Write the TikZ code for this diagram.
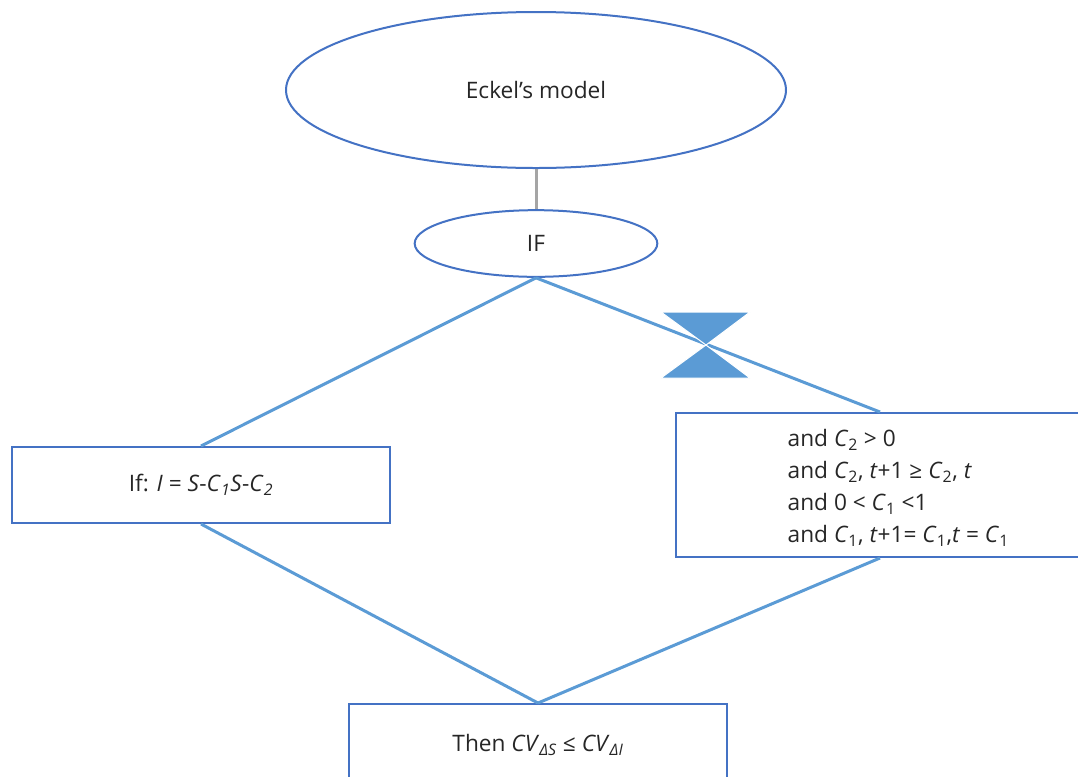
\documentclass[tikz,border=0pt]{standalone}
\usepackage{fontspec}
\setmainfont{Open Sans}
\usetikzlibrary{shapes.geometric}

\definecolor{boxblue}{HTML}{4472C4}
\definecolor{linkblue}{HTML}{5B9BD5}
\definecolor{linkgray}{HTML}{A5A5A5}
\definecolor{txtgray}{HTML}{262626}

\newcommand{\ital}[1]{\textit{#1}}
\newcommand{\subs}[1]{\textsubscript{#1}}

\tikzset{>=latex,
  oval/.style={ellipse, draw=boxblue, line width=1.5pt, fill=white, text=txtgray},
  frame/.style={rectangle, draw=boxblue, line width=1.5pt, fill=white, text=txtgray},
  link/.style={draw=linkblue, line width=2.25pt},
}

\begin{document}
\begin{tikzpicture}[x=0.75pt,y=-0.75pt,font=\fontsize{17}{24}\selectfont]
\useasboundingbox (0,0) rectangle (1078,776);
\clip (0,0) rectangle (1078,776);

% Eckel's model
\node[oval, minimum width=375pt, minimum height=117pt] (eckel) at (536,90) {Eckel’s model};
\node[oval, minimum width=182pt, minimum height=50pt] (if) at (536,243.5) {IF};
\draw[linkgray, line width=2.25pt] (eckel.south) -- (if.north);

% the two branches
\node[frame, minimum width=283.5pt, minimum height=57pt] (left) at (201,485) {};
\node[frame, minimum width=306pt, minimum height=108pt] (right) at (880,485) {};
\node[frame, minimum width=283.5pt, minimum height=57pt] (then) at (538,742) {};

\draw[link] (if.south) -- (left.north);
\draw[link] (if.south) -- (right.north);
\draw[link] (left.south) -- (then.north);
\draw[link] (right.south) -- (then.north);

% collate mark
\coordinate (mark) at (706,345);
\fill[linkblue, draw=white, line width=0.75pt] (661,312) -- (750,312) -- (mark) -- cycle;
\fill[linkblue, draw=white, line width=0.75pt] (661,378) -- (750,378) -- (mark) -- cycle;

% texts
\node[text=txtgray] (lefttxt) at (left.center) {If: \ital{I} = \ital{S}-\ital{C}\subs{\ital{1}}\ital{S}-\ital{C}\subs{\ital{2}}};
\node[text=txtgray, anchor=west, align=left] (conds) at (783,488) {and \ital{C}\subs{2} > 0\\
and \ital{C}\subs{2}, \ital{t}+1 ≥ \ital{C}\subs{2}, \ital{t}\\
and 0 < \ital{C}\subs{1} <1\\
and \ital{C}\subs{1}, \ital{t}+1= \ital{C}\subs{1},\ital{t} = \ital{C}\subs{1}};
\node[text=txtgray] (thentxt) at (538,745) {Then \ital{CV}\subs{\ital{ΔS}} ≤ \ital{CV}\subs{\ital{ΔI}}};

\end{tikzpicture}
\end{document}
